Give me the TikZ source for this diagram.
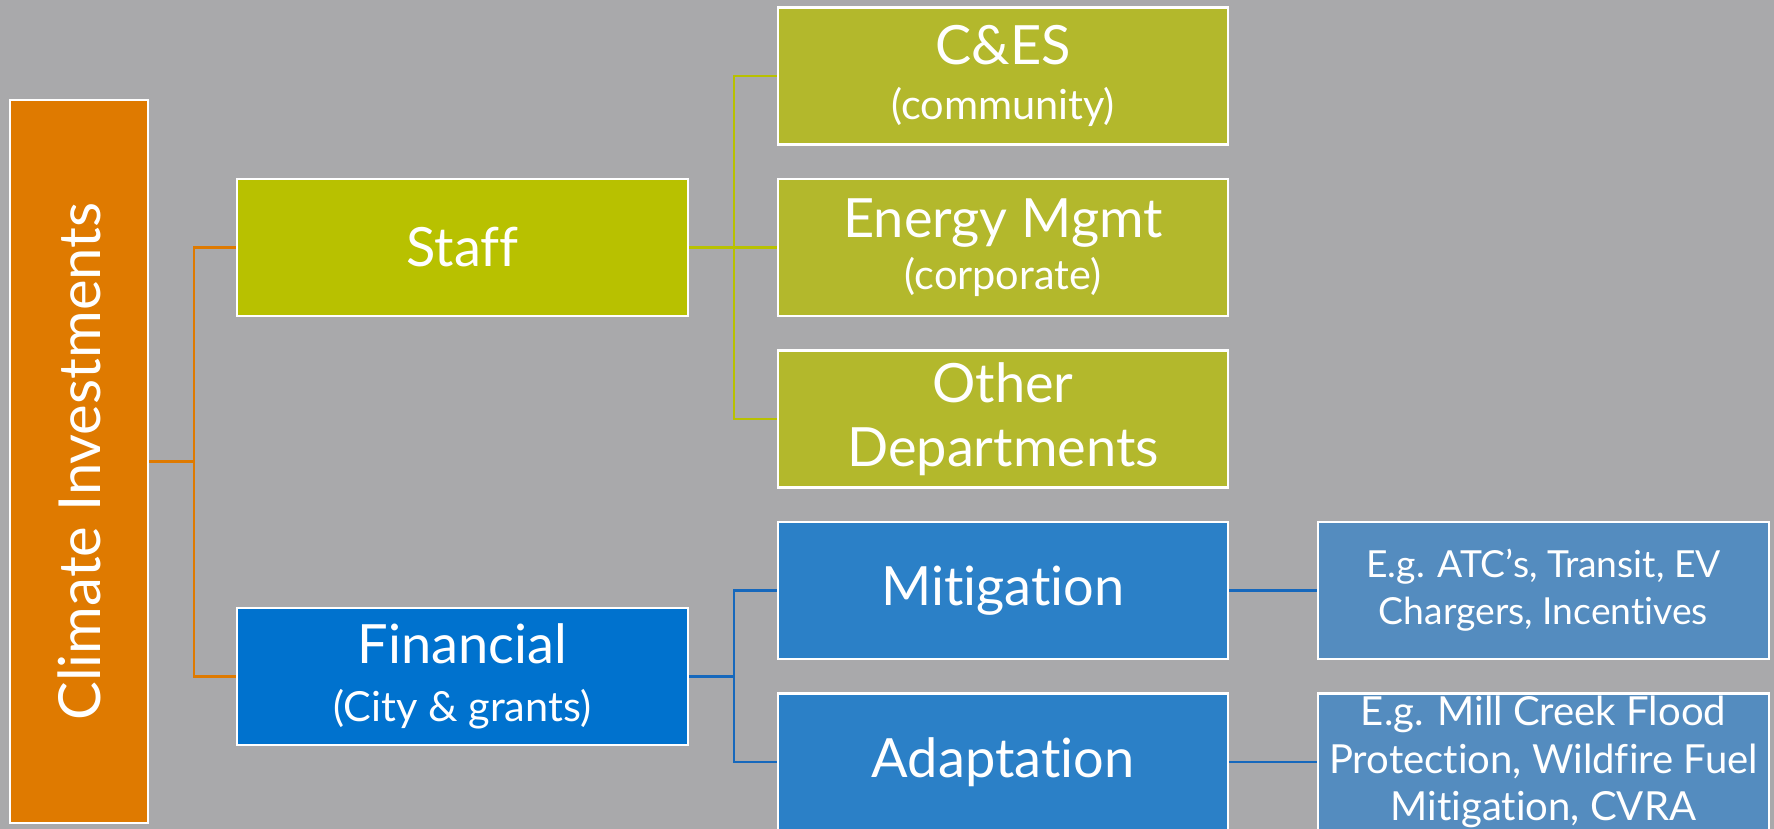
\documentclass[tikz,border=0pt]{standalone}
\usepackage{fontspec}
\setmainfont{Lato}[Ligatures={NoCommon,NoRare}]
\usepackage{xcolor}
\definecolor{bggray}{HTML}{A9A9AB}
\definecolor{rootorange}{HTML}{DF7A00}
\definecolor{staffgreen}{HTML}{B8C100}
\definecolor{leafolive}{HTML}{B3B82C}
\definecolor{finblue}{HTML}{0072CE}
\definecolor{leafblue}{HTML}{2B80C7}
\definecolor{exblue}{HTML}{548CBF}
\definecolor{linkblue}{HTML}{1668BC}
\newcommand{\subtxt}[1]{{\fontsize{11.8}{13.5}\selectfont #1}}

\begin{document}
\begin{tikzpicture}[
  box/.style={rectangle, draw=white, line width=0.7pt, text=white, align=center,
    minimum width=4.5cm, minimum height=1.37cm, inner sep=0pt,
    font=\fontsize{15.4}{18.2}\selectfont},
  link/.style={line width=0.7pt}
]
% 背景
\useasboundingbox (0,0) rectangle (17.74,8.29);
\fill[bggray] (0,0) rectangle (17.74,8.29);

% 左の列
\node[box, fill=rootorange, rotate=90, minimum width=7.23cm, minimum height=1.38cm, font=\fontsize{16.5}{19}\selectfont] (clim) at (0.79,3.675) {Climate Investments};
\node[box, fill=staffgreen, minimum width=4.51cm] (staff) at (4.625,5.815) {Staff};
\node[box, fill=finblue, minimum width=4.51cm] (fin) at (4.625,1.525) {Financial\\[-1.5pt]\subtxt{(City \& grants)}};

% 中央の列
\node[box, fill=leafolive] (ces) at (10.03,7.53) {C\&ES\\[-2.5pt]\subtxt{(community)}};
\node[box, fill=leafolive] (energy) at (10.03,5.815) {Energy Mgmt\\[-3.5pt]\subtxt{(corporate)}};
\node[box, fill=leafolive] (other) at (10.03,4.10) {Other\\Departments};
\node[box, fill=leafblue] (miti) at (10.03,2.385) {Mitigation};
\node[box, fill=leafblue] (adapt) at (10.03,0.67) {Adaptation};

% 右の列
\node[box, fill=exblue, minimum width=4.51cm, font=\fontsize{10.6}{13.4}\selectfont] (egm) at (15.435,2.385) {E.g. ATC’s, Transit, EV\\Chargers, Incentives};
\node[box, fill=exblue, minimum width=4.51cm, font=\fontsize{11.4}{13.6}\selectfont] (ega) at (15.435,0.67) {E.g. Mill Creek Flood\\Protection, Wildfire Fuel\\Mitigation, CVRA};

% 接続線
\draw[link, rootorange] (clim.south) -- ++(0.45,0) |- (staff.west);
\draw[link, rootorange] (clim.south) -- ++(0.45,0) |- (fin.west);
\draw[link, staffgreen] (staff.east) -- ++(0.45,0) |- (ces.west);
\draw[link, staffgreen] (staff.east) -- ++(0.45,0) |- (energy.west);
\draw[link, staffgreen] (staff.east) -- ++(0.45,0) |- (other.west);
\draw[link, linkblue] (fin.east) -- ++(0.45,0) |- (miti.west);
\draw[link, linkblue] (fin.east) -- ++(0.45,0) |- (adapt.west);
\draw[link, linkblue] (miti.east) -- (egm.west);
\draw[link, linkblue] (adapt.east) -- (ega.west);
\end{tikzpicture}
\end{document}
